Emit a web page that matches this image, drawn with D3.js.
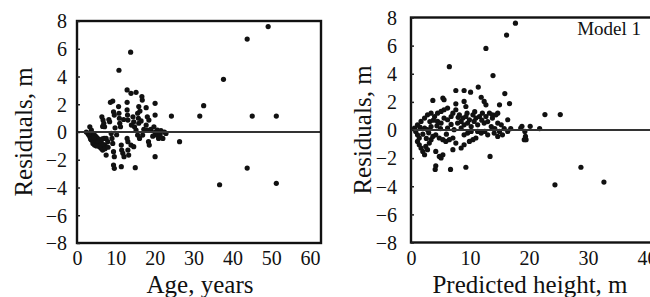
<!DOCTYPE html>
<html>
<head>
<meta charset="utf-8">
<script src="https://cdn.jsdelivr.net/npm/d3@7"></script>
<style>
  body { margin: 0; background: #fff; }
  text { font-family: "Liberation Serif", "Times New Roman", serif; fill: #111; }
  .axis path { display: none; }
  .axis line { stroke: #222; stroke-width: 1.5; }
</style>
</head>
<body>
<div class="chart"></div>
<script>
// residuals vs age: [age, residual]
const agePoints = [
  [49.2, 7.6], [43.8, 6.7], [37.7, 3.8], [32.6, 1.9], [31.6, 1.15], [45.1, 1.15], [51.3, 1.15],
  [24.3, 1.15], [26.4, -0.7], [43.8, -2.6], [36.7, -3.8], [51.3, -3.7], [10.8, 4.45], [13.8, 5.75],
  [12.9, 3.03], [13.9, 2.79], [15.2, 2.86], [16.7, 2.55], [16.8, 2.3], [9.2, 2.23], [8.6, 2.14],
  [12.9, 2.14], [20.1, 2.07], [10.7, 1.83], [15.9, 1.83], [16.2, 1.51], [17.8, 1.75], [9.4, 1.46],
  [9.6, 1.22], [10.8, 1.35], [10.9, 0.99], [12.9, 1.59], [13.0, 1.22], [13.1, 0.86], [14.4, 1.1],
  [14.6, 0.74], [15.6, 1.35], [15.8, 0.99], [15.9, 0.63], [18.1, 1.1], [18.5, 0.86], [20.1, 1.22],
  [6.4, 1.1], [6.7, 0.86], [6.9, 0.63], [7.1, 0.38], [8.4, 0.74], [11.0, 0.63], [11.2, 0.38],
  [14.8, 0.38], [15.2, 0.14], [17.8, 0.5], [18.1, 0.14], [19.0, 0.2], [19.8, 0.38], [20.7, 0.14],
  [21.6, 0.1], [22.5, 0], [22.9, -0.1], [3.3, 0.38], [3.7, 0.14], [2.4, 0], [2.8, -0.1],
  [4.1, -0.1], [4.5, -0.22], [4.9, -0.34], [5.3, -0.46], [3.3, -0.34], [3.7, -0.58], [4.1, -0.82],
  [4.5, -0.94], [5.3, -0.82], [5.8, -1.06], [6.2, -1.18], [6.6, -1.3], [5.8, -0.58], [6.2, -0.7],
  [7.0, -0.94], [7.5, -1.06], [7.0, -0.46], [7.5, -0.46], [7.9, -0.7], [8.8, -0.1], [9.0, -0.46],
  [9.2, -0.82], [7.5, -1.66], [9.4, -1.42], [9.6, -1.78], [11.4, -0.94], [11.5, -1.3], [12.9, -0.46],
  [13.1, -0.7], [11.8, -1.54], [12.1, -1.78], [13.1, -1.3], [13.3, -1.66], [13.9, -0.94], [14.6, -1.06],
  [15.6, -0.22], [16.1, -0.46], [16.9, -0.22], [18.4, -0.7], [18.6, -0.94], [20.1, 0], [20.5, -0.22],
  [21.0, -0.46], [22.1, -0.46], [20.1, -1.78], [9.4, -2.38], [9.6, -2.62], [11.4, -2.5], [15.0, -2.57],
  [3.0, -0.2], [3.5, -0.5], [4.0, -0.6], [4.8, -0.6], [5.5, -0.7], [6.0, -0.9], [6.8, -0.9],
  [7.2, -1.2], [5.0, -1.0], [4.3, -0.4], [6.5, -0.5], [8.0, -1.1], [8.2, 0.9], [6.6, 0.4],
  [12.0, 0.9], [14.0, 0.5], [16.5, 0.8], [17.2, 0.2], [19.5, -0.3], [21.4, -0.2], [10.2, -0.2], [9.8, 0.3]
];

// residuals vs predicted height: [height, residual]
const heightPoints = [
  [17.7, 7.6], [16.2, 6.75], [12.7, 5.8], [6.5, 4.5], [13.9, 3.87], [15.9, 2.59], [11.4, 3.05],
  [16.7, 1.88], [22.7, 1.1], [25.3, 1.1], [28.8, -2.65], [24.4, -3.9], [32.7, -3.7], [13.4, -1.88],
  [20.2, 0.26], [19.3, -0.1], [18.8, 0.26], [19.4, -0.46], [19.2, -0.69], [4.1, -2.8], [4.2, -2.55],
  [6.7, -2.8], [9.3, -2.65], [7.6, 2.81], [9.0, 2.81], [10.1, 2.69], [3.7, 2.1], [5.4, 2.27],
  [5.6, 2.15], [7.6, 1.86], [9.0, 2.03], [9.3, 1.67], [11.9, 2.33], [12.4, 2.03], [12.7, 1.79],
  [15.0, 1.79], [13.8, 1.08], [14.7, 1.2], [16.4, 0.73], [18.6, 0.14], [21.8, 0.1], [1.1, 0.37],
  [1.7, 0.61], [2.3, 0.85], [2.8, 1.08], [3.4, 1.2], [4.0, 0.96], [4.5, 1.2], [5.1, 1.32],
  [5.6, 1.44], [6.2, 1.56], [4.5, 0.61], [5.1, 0.49], [5.6, 0.85], [6.2, 0.73], [6.8, 0.96],
  [7.1, 1.2], [7.6, 1.44], [8.2, 1.08], [8.8, 0.85], [9.3, 0.96], [9.9, 0.73], [10.5, 1.08],
  [11.0, 0.85], [11.6, 0.96], [12.1, 1.2], [12.7, 0.96], [13.3, 1.2], [13.8, 0.85], [14.4, 1.08],
  [7.9, 0.49], [8.5, 0.61], [9.0, 0.37], [9.6, 0.49], [10.2, 0.25], [10.7, 0.61], [11.3, 0.37],
  [12.4, 0.49], [13.6, 0.25], [14.7, 0.49], [15.3, 0.37], [0.6, 0.14], [0.8, -0.1], [1.1, -0.34],
  [1.4, -0.57], [1.1, -0.81], [1.4, -1.05], [1.7, -1.28], [2.0, -1.52], [2.3, -1.76], [2.5, -1.17],
  [2.8, -1.4], [3.1, -0.93], [3.4, -0.69], [3.7, -0.46], [4.2, -0.34], [4.8, -0.57], [5.4, -0.69],
  [5.9, -0.81], [6.5, -0.69], [7.1, -0.57], [4.2, -1.52], [4.8, -1.88], [5.1, -1.99], [5.4, -1.76],
  [7.6, -0.93], [8.5, -1.28], [9.0, -1.05], [9.9, -0.81], [10.5, -0.69], [11.0, -0.57], [9.0, -0.34],
  [9.6, -0.22], [10.2, -0.1], [11.3, -0.1], [11.9, -0.22], [13.0, -0.34], [14.1, -0.22], [14.7, -0.46],
  [15.5, -0.34], [16.4, -0.1], [7.1, -1.4], [19.5, -0.69], [16.9, 0.1], [2.3, 0.14], [2.8, 0.02],
  [3.4, 0.25], [6.2, 0.14], [7.3, 0.02], [8.5, 0.14],
  [1.5, 0.2], [2.0, -0.3], [2.6, -0.6], [3.0, -0.2], [3.2, 0.6], [3.8, 0.7], [4.4, 0.3],
  [5.0, 0.1], [6.0, -0.3], [6.8, 0.4], [8.0, 0.9], [9.5, 1.2], [10.8, 1.3], [12.0, 0.7],
  [13.0, 0.6], [14.2, 0.1], [15.8, 0.1], [15.0, -0.1], [12.5, -0.1]
];

const residTicks = [-8, -6, -4, -2, 0, 2, 4, 6, 8];
const ageTicks = [0, 10, 20, 30, 40, 50, 60];
const heightTicks = [0, 10, 20, 30, 40];

const svg = d3.select('.chart').append('svg')
  .attr('width', 650).attr('height', 297);

function drawPanel(opt) {
  const x = d3.scaleLinear().domain(opt.xDomain).range(opt.xRange);
  const y = d3.scaleLinear().domain([-8, 8]).range(opt.yRange);
  const g = svg.append('g');

  // points
  g.selectAll('.dot').data(opt.points).enter()
    .append('circle').attr('class', 'dot')
    .attr('cx', d => x(d[0])).attr('cy', d => y(d[1]))
    .attr('r', 2.6).style('fill', '#111');

  // zero line
  g.append('line')
    .attr('x1', opt.xRange[0]).attr('x2', opt.xRange[1])
    .attr('y1', y(0)).attr('y2', y(0))
    .style('stroke', '#333').style('stroke-width', 1.8);

  // frame
  g.append('rect')
    .attr('x', opt.xRange[0]).attr('y', opt.yRange[1])
    .attr('width', opt.xRange[1] - opt.xRange[0])
    .attr('height', opt.yRange[0] - opt.yRange[1])
    .style('fill', 'none').style('stroke', '#111').style('stroke-width', 2.4);

  const yAxis = d3.axisLeft(y).tickValues(residTicks).tickSize(-3).tickPadding(opt.yPad);
  const yAxisDraw = g.append('g').attr('class', 'axis')
    .attr('transform', `translate(${opt.xRange[0]},0)`).call(yAxis);
  yAxisDraw.selectAll('text').style('font-size', '20px').attr('dy', '0.34em');

  const xAxis = d3.axisBottom(x).tickValues(opt.xTicks).tickSize(0).tickPadding(8);
  const xAxisDraw = g.append('g').attr('class', 'axis')
    .attr('transform', `translate(0,${opt.yRange[0]})`).call(xAxis);
  xAxisDraw.selectAll('text').style('font-size', '20px');

  g.append('text').text(opt.xTitle)
    .attr('x', opt.xTitleX).attr('y', 293)
    .attr('text-anchor', 'middle').style('font-size', '25px');

  g.append('text').text('Residuals, m')
    .attr('transform', `translate(${opt.yTitleX},${(opt.yRange[0] + opt.yRange[1]) / 2}) rotate(-90)`)
    .attr('text-anchor', 'middle').style('font-size', '25px');
}

drawPanel({
  points: agePoints, xDomain: [0, 62.8], xRange: [77, 321], yRange: [243, 21],
  xTicks: ageTicks, xTitle: 'Age, years', xTitleX: 200, yTitleX: 32, yPad: 10
});

drawPanel({
  points: heightPoints, xDomain: [0, 45], xRange: [411, 411 + 45 * 5.9], yRange: [242.5, 17.5],
  xTicks: heightTicks, xTitle: 'Predicted height, m', xTitleX: 530, yTitleX: 371, yPad: 14
});

svg.append('text').text('Model 1')
  .attr('x', 641).attr('y', 35).attr('text-anchor', 'end')
  .style('font-size', '19px');
</script>
</body>
</html>
